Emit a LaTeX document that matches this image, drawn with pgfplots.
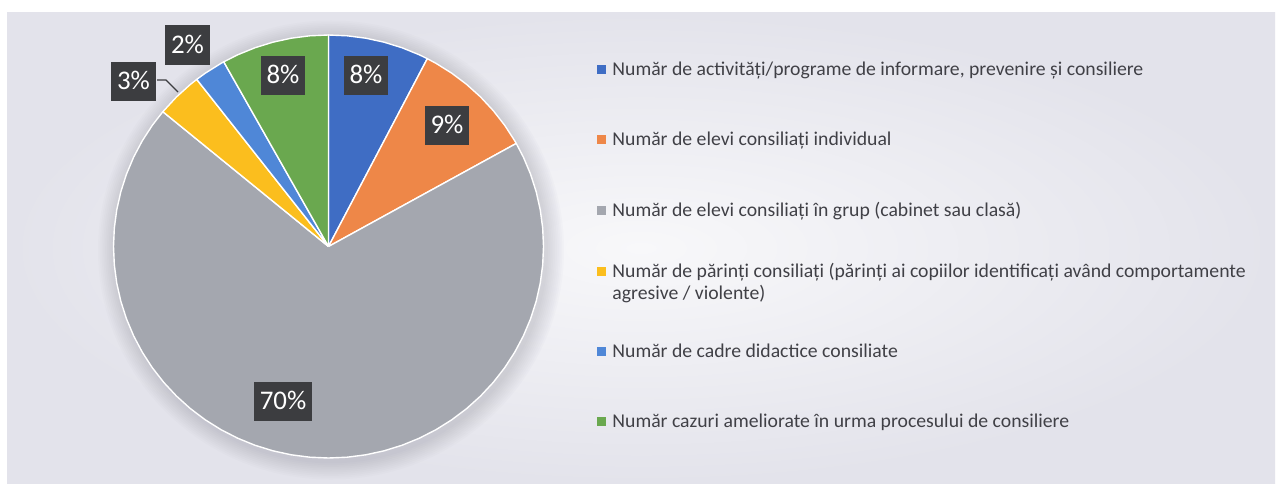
\documentclass[border=0pt]{standalone}
\usepackage{pgfplots}
\pgfplotsset{compat=1.18}
\usepackage{fontspec}
\setmainfont{Carlito}
\newfontfamily\legfont[FakeStretch=1.01]{Carlito}
\definecolor{cBlue}{HTML}{3F6DC4}
\definecolor{cOrange}{HTML}{EE8748}
\definecolor{cGray}{HTML}{A4A7AF}
\definecolor{cYellow}{HTML}{FBBE1E}
\definecolor{cLBlue}{HTML}{4F87D7}
\definecolor{cGreen}{HTML}{6AA84F}
\definecolor{lblbg}{HTML}{3C3D40}
\definecolor{txt}{HTML}{404046}
\definecolor{bgin}{HTML}{F8F8FA}
\definecolor{bgout}{HTML}{E3E3EB}
\definecolor{shad}{HTML}{6A6A80}
\begin{document}
\begin{tikzpicture}[x=1bp,y=1bp,
  lbl/.style={fill=lblbg, text=white, font=\fontsize{13.5}{14}\selectfont,
    inner xsep=3bp, inner ysep=0pt, minimum height=19.5bp, text height=8.8bp, text depth=0.6bp},
  leg/.style={anchor=base west, text=txt, font=\legfont\fontsize{9.8}{12}\selectfont, inner sep=0pt}]
% background
\fill[white] (0,0) rectangle (640,243);
\shade[inner color=bgin, outer color=bgout] (3.5,1.5) rectangle (637.5,236.5);
% soft shadow around the pie
\foreach \k in {1,...,10}
  \fill[shad, opacity=0.025] (165.5,118) ellipse ({107.5+\k*0.9} and {105.75+\k*0.9});
% pie: slice values (percent) 7.6, 9.3, 69.1, 3.5, 2.4, 8.1, clockwise from 90 deg
\begin{axis}[at={(164.25bp,119.75bp)}, anchor=origin, scale only axis,
  width=215bp, height=211.5bp, xmin=-1, xmax=1, ymin=-1, ymax=1,
  hide axis, clip=false]
\addplot[fill=cBlue, draw=white, line width=0.7pt, line join=round, data cs=polar] coordinates {
 (0,0) (90,1) (85,1) (80,1) (75,1) (70,1) (65,1) (62.64,1) (0,0)};
\addplot[fill=cOrange, draw=white, line width=0.7pt, line join=round, data cs=polar] coordinates {
 (0,0) (62.64,1) (60,1) (55,1) (50,1) (45,1) (40,1) (35,1) (30,1) (29.16,1) (0,0)};
\addplot[fill=cGray, draw=white, line width=0.7pt, line join=round, data cs=polar] coordinates {
 (0,0) (29.16,1) (25,1) (20,1) (15,1) (10,1) (5,1) (0,1) (-5,1) (-10,1) (-15,1) (-20,1)
 (-25,1) (-30,1) (-35,1) (-40,1) (-45,1) (-50,1) (-55,1) (-60,1) (-65,1) (-70,1) (-75,1)
 (-80,1) (-85,1) (-90,1) (-95,1) (-100,1) (-105,1) (-110,1) (-115,1) (-120,1) (-125,1)
 (-130,1) (-135,1) (-140,1) (-145,1) (-150,1) (-155,1) (-160,1) (-165,1) (-170,1) (-175,1)
 (-180,1) (-185,1) (-190,1) (-195,1) (-200,1) (-205,1) (-210,1) (-215,1) (-219.6,1) (0,0)};
\addplot[fill=cYellow, draw=white, line width=0.7pt, line join=round, data cs=polar] coordinates {
 (0,0) (140.4,1) (135,1) (130,1) (127.8,1) (0,0)};
\addplot[fill=cLBlue, draw=white, line width=0.7pt, line join=round, data cs=polar] coordinates {
 (0,0) (127.8,1) (125,1) (120,1) (119.16,1) (0,0)};
\addplot[fill=cGreen, draw=white, line width=0.7pt, line join=round, data cs=polar] coordinates {
 (0,0) (119.16,1) (115,1) (110,1) (105,1) (100,1) (95,1) (90,1) (0,0)};
\end{axis}
% data labels
\draw[lblbg, line width=0.6pt] (78.5,203) -- (83,203) -- (89,197);
\node[lbl] at (183,205.5) {8\%};
\node[lbl] at (223.5,180.5) {9\%};
\node[lbl] at (141.5,42.5) {70\%};
\node[lbl] at (141.5,205.5) {8\%};
\node[lbl] at (93.75,220.5) {2\%};
\node[lbl] at (66.75,202.25) {3\%};
% legend
\fill[cBlue]   (298.25,206.25) rectangle +(4.5,4.5);
\node[leg] at (306,205.5) {Număr de activități/programe de informare, prevenire și consiliere};
\fill[cOrange] (298.25,171.25) rectangle +(4.5,4.5);
\node[leg] at (306,170.5) {Număr de elevi consiliați individual};
\fill[cGray]   (298.25,135.75) rectangle +(4.5,4.5);
\node[leg] at (306,135) {Număr de elevi consiliați în grup (cabinet sau clasă)};
\fill[cYellow] (298.25,105.25) rectangle +(4.5,4.5);
\node[leg] at (306,104.5) {Număr de părinți consiliați (părinți ai copiilor identificați având comportamente};
\node[leg] at (306,93.5) {agresive / violente)};
\fill[cLBlue]  (298.25,65.25) rectangle +(4.5,4.5);
\node[leg] at (306,64.5) {Număr de cadre didactice consiliate};
\fill[cGreen]  (298.25,30.25) rectangle +(4.5,4.5);
\node[leg] at (306,29.5) {Număr cazuri ameliorate în urma procesului de consiliere};
\end{tikzpicture}
\end{document}
